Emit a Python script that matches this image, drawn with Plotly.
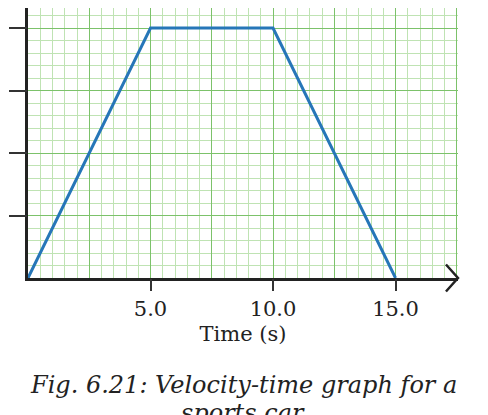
import plotly.graph_objects as go

time_s = [0, 5, 10, 15]
velocity = [0, 40, 40, 0]
x_tick_vals = [5, 10, 15]
x_tick_text = ["5.0", "10.0", "15.0"]
y_tick_vals = [10, 20, 30, 40]
y_tick_text = ["10", "20", "30", "40"]

serif = "DejaVu Serif, Liberation Serif, serif"
XMAX, YMAX = 17.55, 43.2

fig = go.Figure()
fig.add_trace(go.Scatter(x=time_s, y=velocity, mode="lines",
                         line=dict(color="#2676b8", width=3), showlegend=False, cliponaxis=False))

fig.update_layout(
    width=488, height=415, margin=dict(l=20, r=38, t=0, b=145),
    plot_bgcolor="white", paper_bgcolor="white", showlegend=False,
    xaxis=dict(range=[0, XMAX], dtick=2.5, tick0=0, gridcolor="#7cc26a", gridwidth=1.2,
               showticklabels=False, ticks="", zeroline=False, automargin=False,
               minor=dict(dtick=0.5, gridcolor="#bfe3b3", gridwidth=1),
               showline=True, linecolor="#222", linewidth=3),
    yaxis=dict(range=[0, YMAX], dtick=10, tick0=0, gridcolor="#7cc26a", gridwidth=1.2,
               showticklabels=False, ticks="", zeroline=False, automargin=False,
               minor=dict(dtick=2, gridcolor="#bfe3b3", gridwidth=1),
               showline=True, linecolor="#222", linewidth=3),
    xaxis2=dict(overlaying="x", matches="x", range=[0, XMAX], tickvals=x_tick_vals, ticktext=x_tick_text,
                ticks="outside", ticklen=12, tickwidth=2, tickcolor="#333", showgrid=False,
                zeroline=False, side="bottom", anchor="y", automargin=False,
                tickfont=dict(family=serif, size=21, color="#222"),
                title=dict(text="Time (s)", font=dict(family=serif, size=21, color="#222"), standoff=6)),
    yaxis2=dict(overlaying="y", range=[0, YMAX], tickvals=y_tick_vals, ticktext=y_tick_text,
                ticks="outside", ticklen=18, tickwidth=2, tickcolor="#333", showgrid=False,
                zeroline=False, anchor="x", showticklabels=True, automargin=False,
                tickfont=dict(family=serif, size=21, color="#222")),
)
fig.add_trace(go.Scatter(x=[None], y=[None], xaxis="x2", yaxis="y2", showlegend=False))

# arrow head at end of x-axis (paper coords, so it is not clipped)
fig.add_shape(type="path", xref="paper", yref="paper",
              path="M 0.972 0.05 L 1.0 0 L 0.972 -0.05",
              line=dict(color="#222", width=2.5))

fig.add_annotation(x=0.5, y=-0.396, xref="paper", yref="paper", showarrow=False,
                   text="<i>Fig. 6.21: Velocity-time graph for a</i>",
                   font=dict(family=serif, size=24, color="#222"), yanchor="middle")
fig.add_annotation(x=0.5, y=-0.5, xref="paper", yref="paper", showarrow=False,
                   text="<i>sports car</i>",
                   font=dict(family=serif, size=24, color="#222"), yanchor="middle")

fig.write_html("out.html")
